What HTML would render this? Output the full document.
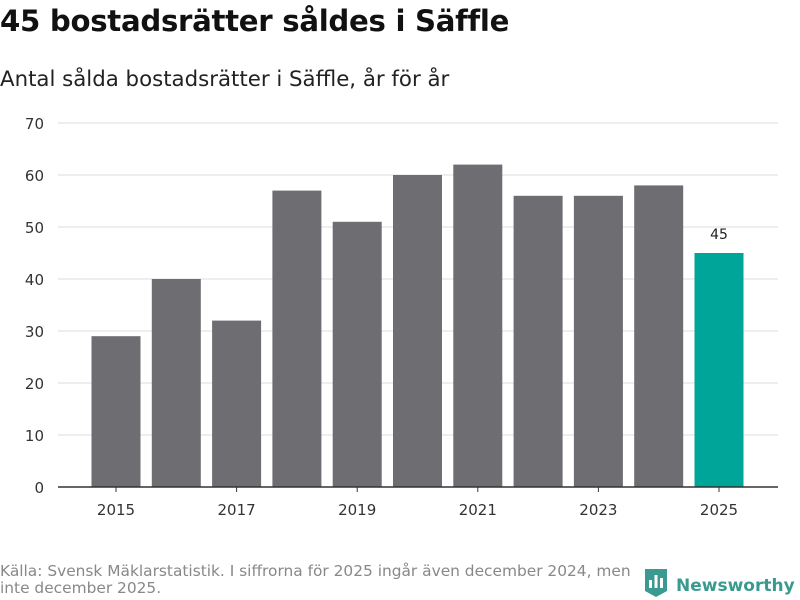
<!DOCTYPE html>
<html><head><meta charset="utf-8"><style>
body{margin:0;width:800px;height:600px;background:#fff;font-family:"DejaVu Sans","Liberation Sans",sans-serif;overflow:hidden;position:relative}
#title{position:absolute;left:0;top:4px;font-size:29.2px;font-weight:bold;color:#111;letter-spacing:-0.3px;white-space:nowrap}
#subtitle{position:absolute;left:0;top:67px;font-size:21.3px;color:#222;white-space:nowrap}
#source{position:absolute;left:0;top:563px;font-size:15.4px;color:#888;line-height:17px;width:645px}
#logo{position:absolute;left:645px;top:569px;font-size:17px;font-weight:bold;color:#3a9a8f;white-space:nowrap}
</style></head><body>
<div id="title">45 bostadsrätter såldes i Säffle</div>
<div id="subtitle">Antal sålda bostadsrätter i Säffle, år för år</div>
<svg id="chart" width="800" height="560" style="position:absolute;left:0;top:0"></svg>
<div id="source">Källa: Svensk Mäklarstatistik. I siffrorna för 2025 ingår även december 2024, men inte december 2025.</div>
<div id="logo"><svg width="22" height="28" style="vertical-align:-6px;margin-right:9px"><path d="M0 0H22V22L11 28L0 22Z" fill="#3a9a8f"/><rect x="4" y="11" width="3" height="8" fill="#fff"/><rect x="9.5" y="6" width="3" height="13" fill="#fff"/><rect x="15" y="9" width="3" height="10" fill="#fff"/></svg>Newsworthy</div>
<script>
const years=[2015,2016,2017,2018,2019,2020,2021,2022,2023,2024,2025];
const values=[29,40,32,57,51,60,62,56,56,58,45];
const yTicks=[0,10,20,30,40,50,60,70];
const xLabels=[2015,2017,2019,2021,2023,2025];
const svg=document.getElementById('chart');const NS='http://www.w3.org/2000/svg';
const y0=487,yTop=123,yMax=70,x0=116,step=60.3,bw=49;
const y=v=>y0-(y0-yTop)*v/yMax;
const x=yr=>x0+(yr-years[0])*step;
function mk(t,a){const e=document.createElementNS(NS,t);for(const k in a)e.setAttribute(k,a[k]);svg.appendChild(e);return e;}
yTicks.forEach(t=>{
 if(t>0){const l=mk('line',{x1:58,x2:778,y1:y(t),y2:y(t),stroke:'#ddd','stroke-width':1});
 
 }
 const tx=mk('text',{x:44,y:y(t)+6,'text-anchor':'end','font-size':15,fill:'#333'});tx.textContent=t;
 
 
});
years.forEach((yr,i)=>{
 const last=i===years.length-1;
 const r=mk('rect',{x:x(yr)-bw/2,y:y(values[i]),width:bw,height:y0-y(values[i]),fill:last?'#00a59a':'#6e6d72'});
 
 
 if(last){const t=mk('text',{x:x(yr),y:y(values[i])-14,'text-anchor':'middle','font-size':14,fill:'#222'});t.textContent=values[i];
 
 }
});
const ax=mk('line',{x1:58,x2:778,y1:y0,y2:y0,stroke:'#333','stroke-width':1.5});


xLabels.forEach(yr=>{
 const tk=mk('line',{x1:x(yr),x2:x(yr),y1:y0,y2:y0+5,stroke:'#333'});
 
 
 const t=mk('text',{x:x(yr),y:515,'text-anchor':'middle','font-size':15,fill:'#333'});t.textContent=yr;
 
 
});
</script>
</body></html>
